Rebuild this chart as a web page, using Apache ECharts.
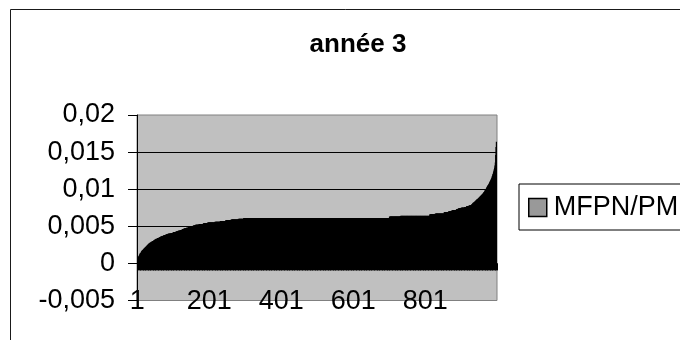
<!DOCTYPE html>
<html>
<head>
<meta charset="utf-8">
<title>année 3</title>
<script src="https://cdn.jsdelivr.net/npm/echarts/dist/echarts.min.js"></script>
<style>
  html, body { margin: 0; padding: 0; background: #fff; }
  #chart { width: 680px; height: 340px; }
</style>
</head>
<body>
<div id="chart"></div>
<script>
// Sorted ratio values, one per observation (1 … 1000)
const mfpnPm = [
  0.0001,0.0003,0.0005,0.0006,0.0008,0.0009,0.0010,
  0.0011,0.0012,0.0013,0.0014,0.0014,0.0015,
  0.0016,0.0017,0.0017,0.0018,0.0018,0.0019,0.0019,
  0.0020,0.0020,0.0021,0.0021,0.0022,0.0022,0.0023,
  0.0023,0.0024,0.0024,0.0025,0.0025,0.0026,0.0026,
  0.0027,0.0027,0.0027,0.0028,0.0028,0.0028,
  0.0029,0.0029,0.0029,0.0030,0.0030,0.0030,0.0030,
  0.0031,0.0031,0.0031,0.0032,0.0032,0.0032,
  0.0033,0.0033,0.0033,0.0033,0.0034,0.0034,0.0034,0.0034,0.0034,
  0.0035,0.0035,0.0035,0.0035,
  0.0036,0.0036,0.0036,0.0036,0.0037,0.0037,0.0037,0.0037,0.0037,
  0.0038,0.0038,0.0038,0.0038,0.0038,0.0038,
  0.0039,0.0039,0.0039,0.0039,0.0039,0.0039,
  0.0040,0.0040,0.0040,0.0040,0.0040,0.0040,0.0040,0.0040,
  0.0041,0.0041,0.0041,0.0041,0.0041,0.0041,
  0.0042,0.0042,0.0042,0.0042,0.0042,0.0042,0.0042,0.0042,
  0.0043,0.0043,0.0043,0.0043,0.0043,0.0043,
  0.0044,0.0044,0.0044,0.0044,0.0044,0.0044,
  0.0045,0.0045,0.0045,0.0045,0.0045,
  0.0046,0.0046,0.0046,0.0046,0.0046,
  0.0047,0.0047,0.0047,0.0047,0.0047,0.0047,0.0047,
  0.0048,0.0048,0.0048,0.0048,0.0048,0.0048,
  0.0049,0.0049,0.0049,0.0049,0.0049,
  0.0050,0.0050,0.0050,0.0050,0.0050,0.0050,0.0050,0.0050,
  0.0051,0.0051,0.0051,0.0051,0.0051,0.0051,
  0.0052,0.0052,0.0052,0.0052,0.0052,0.0052,0.0052,0.0052,0.0052,0.0052,
  0.0053,0.0053,0.0053,0.0053,0.0053,0.0053,0.0053,0.0053,0.0053,0.0053,0.0053,0.0053,
  0.0054,0.0054,0.0054,0.0054,0.0054,0.0054,0.0054,0.0054,0.0054,0.0054,0.0054,0.0054,
  0.0055,0.0055,0.0055,0.0055,0.0055,0.0055,0.0055,0.0055,0.0055,0.0055,
  0.0055,0.0055,0.0055,0.0055,0.0055,0.0055,0.0055,0.0055,0.0055,0.0055,
  0.0056,0.0056,0.0056,0.0056,0.0056,0.0056,0.0056,0.0056,0.0056,0.0056,0.0056,0.0056,0.0056,0.0056,0.0056,
  0.0057,0.0057,0.0057,0.0057,0.0057,0.0057,0.0057,0.0057,0.0057,0.0057,0.0057,0.0057,0.0057,0.0057,0.0057,
  0.0058,0.0058,0.0058,0.0058,0.0058,0.0058,0.0058,0.0058,0.0058,0.0058,0.0058,0.0058,0.0058,0.0058,0.0058,
  0.0059,0.0059,0.0059,0.0059,0.0059,0.0059,0.0059,0.0059,0.0059,0.0059,
  0.0059,0.0059,0.0059,0.0059,0.0059,0.0059,0.0059,0.0059,0.0059,0.0059,
  0.0060,0.0060,0.0060,0.0060,0.0060,0.0060,0.0060,0.0060,0.0060,0.0060,0.0060,0.0060,0.0060,0.0060,0.0060,
  // long plateau
  0.0061,0.0061,0.0061,0.0061,0.0061,0.0061,0.0061,0.0061,0.0061,0.0061,0.0061,0.0061,0.0061,0.0061,0.0061,0.0061,0.0061,0.0061,0.0061,0.0061,
  0.0061,0.0061,0.0061,0.0061,0.0061,0.0061,0.0061,0.0061,0.0061,0.0061,0.0061,0.0061,0.0061,0.0061,0.0061,0.0061,0.0061,0.0061,0.0061,0.0061,
  0.0061,0.0061,0.0061,0.0061,0.0061,0.0061,0.0061,0.0061,0.0061,0.0061,0.0061,0.0061,0.0061,0.0061,0.0061,0.0061,0.0061,0.0061,0.0061,0.0061,
  0.0061,0.0061,0.0061,0.0061,0.0061,0.0061,0.0061,0.0061,0.0061,0.0061,0.0061,0.0061,0.0061,0.0061,0.0061,0.0061,0.0061,0.0061,0.0061,0.0061,
  0.0061,0.0061,0.0061,0.0061,0.0061,0.0061,0.0061,0.0061,0.0061,0.0061,0.0061,0.0061,0.0061,0.0061,0.0061,0.0061,0.0061,0.0061,0.0061,0.0061,
  0.0061,0.0061,0.0061,0.0061,0.0061,0.0061,0.0061,0.0061,0.0061,0.0061,0.0061,0.0061,0.0061,0.0061,0.0061,0.0061,0.0061,0.0061,0.0061,0.0061,
  0.0061,0.0061,0.0061,0.0061,0.0061,0.0061,0.0061,0.0061,0.0061,0.0061,0.0061,0.0061,0.0061,0.0061,0.0061,0.0061,0.0061,0.0061,0.0061,0.0061,
  0.0061,0.0061,0.0061,0.0061,0.0061,0.0061,0.0061,0.0061,0.0061,0.0061,0.0061,0.0061,0.0061,0.0061,0.0061,0.0061,0.0061,0.0061,0.0061,0.0061,
  0.0061,0.0061,0.0061,0.0061,0.0061,0.0061,0.0061,0.0061,0.0061,0.0061,0.0061,0.0061,0.0061,0.0061,0.0061,0.0061,0.0061,0.0061,0.0061,0.0061,
  0.0061,0.0061,0.0061,0.0061,0.0061,0.0061,0.0061,0.0061,0.0061,0.0061,0.0061,0.0061,0.0061,0.0061,0.0061,0.0061,0.0061,0.0061,0.0061,0.0061,
  0.0061,0.0061,0.0061,0.0061,0.0061,0.0061,0.0061,0.0061,0.0061,0.0061,0.0061,0.0061,0.0061,0.0061,0.0061,0.0061,0.0061,0.0061,0.0061,0.0061,
  0.0061,0.0061,0.0061,0.0061,0.0061,0.0061,0.0061,0.0061,0.0061,0.0061,0.0061,0.0061,0.0061,0.0061,0.0061,0.0061,0.0061,0.0061,0.0061,0.0061,
  0.0061,0.0061,0.0061,0.0061,0.0061,0.0061,0.0061,0.0061,0.0061,0.0061,0.0061,0.0061,0.0061,0.0061,0.0061,0.0061,0.0061,0.0061,0.0061,0.0061,
  0.0061,0.0061,0.0061,0.0061,0.0061,0.0061,0.0061,0.0061,0.0061,0.0061,0.0061,0.0061,0.0061,0.0061,0.0061,0.0061,0.0061,0.0061,0.0061,0.0061,
  0.0061,0.0061,0.0061,0.0061,0.0061,0.0061,0.0061,0.0061,0.0061,0.0061,0.0061,0.0061,0.0061,0.0061,0.0061,0.0061,0.0061,0.0061,0.0061,0.0061,
  0.0061,0.0061,0.0061,0.0061,0.0061,0.0061,0.0061,0.0061,0.0061,0.0061,0.0061,0.0061,0.0061,0.0061,0.0061,0.0061,0.0061,0.0061,0.0061,0.0061,
  0.0061,0.0061,0.0061,0.0061,0.0061,0.0061,0.0061,0.0061,0.0061,0.0061,0.0061,0.0061,0.0061,0.0061,0.0061,0.0061,0.0061,0.0061,0.0061,0.0061,
  0.0061,0.0061,0.0061,0.0061,0.0061,0.0061,0.0061,0.0061,0.0061,0.0061,0.0061,0.0061,0.0061,0.0061,0.0061,0.0061,0.0061,0.0061,0.0061,0.0061,
  0.0061,0.0061,0.0061,0.0061,0.0061,0.0061,0.0061,0.0061,0.0061,0.0061,0.0061,0.0061,0.0061,0.0061,0.0061,0.0061,0.0061,0.0061,0.0061,0.0061,
  0.0061,0.0061,0.0061,0.0061,0.0061,0.0061,0.0061,0.0061,0.0061,0.0061,0.0061,0.0061,0.0061,0.0061,0.0061,0.0061,0.0061,0.0061,0.0061,0.0061,
  0.0061,0.0061,0.0061,0.0061,0.0061,
  // second step
  0.0063,0.0063,0.0063,0.0063,0.0063,0.0063,0.0063,0.0063,0.0063,0.0063,0.0063,0.0063,0.0063,0.0063,0.0063,0.0063,0.0063,0.0063,0.0063,0.0063,
  0.0063,0.0063,0.0063,0.0063,0.0063,0.0063,0.0063,0.0063,0.0063,0.0063,
  0.0064,0.0064,0.0064,0.0064,0.0064,0.0064,0.0064,0.0064,0.0064,0.0064,0.0064,0.0064,0.0064,0.0064,0.0064,0.0064,0.0064,0.0064,0.0064,0.0064,
  0.0064,0.0064,0.0064,0.0064,0.0064,0.0064,0.0064,0.0064,0.0064,0.0064,0.0064,0.0064,0.0064,0.0064,0.0064,0.0064,0.0064,0.0064,0.0064,0.0064,
  0.0064,0.0064,0.0064,0.0064,0.0064,0.0064,0.0064,0.0064,0.0064,0.0064,0.0064,0.0064,0.0064,0.0064,0.0064,0.0064,0.0064,0.0064,0.0064,0.0064,
  0.0064,0.0064,0.0064,0.0064,0.0064,0.0064,0.0064,0.0064,0.0064,0.0064,0.0064,0.0064,0.0064,0.0064,0.0064,0.0064,0.0064,0.0064,0.0064,0.0064,
  0.0064,0.0064,
  // upper tail
  0.0066,0.0066,0.0066,0.0066,0.0066,0.0066,0.0066,0.0066,0.0066,0.0066,0.0066,0.0066,0.0066,0.0066,0.0066,
  0.0067,0.0067,0.0067,0.0067,0.0067,0.0067,0.0067,0.0067,0.0067,0.0067,0.0067,0.0067,0.0067,0.0067,0.0067,0.0067,0.0067,0.0067,0.0067,0.0067,
  0.0067,0.0067,0.0067,0.0067,0.0067,
  0.0069,0.0069,0.0069,0.0069,0.0069,0.0069,0.0069,0.0069,0.0069,0.0069,0.0069,0.0069,
  0.0070,0.0070,0.0070,0.0070,0.0070,0.0070,0.0070,0.0070,
  0.0071,0.0071,0.0071,0.0071,
  0.0072,0.0072,0.0072,0.0072,0.0072,0.0072,0.0072,0.0072,0.0072,0.0072,
  0.0073,0.0073,0.0073,0.0073,0.0073,
  0.0074,0.0074,0.0074,0.0074,0.0074,0.0074,0.0074,0.0074,
  0.0075,0.0075,0.0075,0.0075,0.0075,0.0075,0.0075,0.0075,0.0075,0.0075,
  0.0076,0.0076,0.0076,0.0076,0.0076,
  0.0077,0.0077,0.0077,0.0077,0.0077,0.0077,0.0077,
  0.0078,0.0078,0.0078,0.0078,0.0078,0.0078,0.0078,
  0.0079,0.0080,0.0080,0.0081,0.0081,0.0082,0.0082,0.0082,0.0083,
  0.0083,0.0084,0.0084,0.0085,0.0085,0.0086,0.0086,0.0086,0.0087,
  0.0087,0.0088,0.0088,0.0089,0.0089,0.0090,0.0090,0.0091,
  0.0091,0.0092,0.0092,0.0093,0.0093,0.0094,
  0.0094,0.0095,0.0096,0.0096,0.0097,0.0098,0.0099,
  0.0099,0.0100,0.0101,0.0102,0.0103,0.0104,0.0105,
  0.0105,0.0106,0.0107,0.0108,0.0109,0.0110,
  0.0111,0.0112,0.0113,0.0114,0.0115,0.0117,
  0.0118,0.0120,0.0121,0.0123,0.0125,
  0.0127,0.0129,0.0132,0.0136,
  0.0146,0.0157,0.0164
];

// Observation numbers used as categories
const categories = mfpnPm.map((_, i) => String(i + 1));

const chartTitle = 'année 3';
const seriesName = 'MFPN/PM';

const yMin = -0.005;
const yMax = 0.02;
const yStep = 0.005;

const FONT = "'Liberation Sans', Arial, sans-serif";

const chart = echarts.init(document.getElementById('chart'), null, { renderer: 'canvas' });

chart.setOption({
  animation: false,
  backgroundColor: '#ffffff',
  textStyle: { fontFamily: FONT },
  graphic: [{
    type: 'rect',
    silent: true,
    shape: { x: 10.5, y: 9.5, width: 720, height: 400 },
    style: { fill: 'none', stroke: '#1a1a1a', lineWidth: 1 }
  }],
  title: {
    text: chartTitle,
    left: 353,
    textAlign: 'center',
    top: 27,
    textStyle: { fontFamily: FONT, fontWeight: 'bold', fontSize: 26, color: '#000' }
  },
  legend: {
    data: [seriesName],
    left: 519,
    top: 184,
    orient: 'vertical',
    padding: [10, 40, 9, 9],
    borderColor: '#000',
    borderWidth: 1,
    backgroundColor: '#fff',
    icon: 'rect',
    itemWidth: 18,
    itemHeight: 18,
    itemStyle: { color: '#999999', borderColor: '#000', borderWidth: 1.5 },
    textStyle: { fontFamily: FONT, fontSize: 27, color: '#000', padding: [0, 0, 0, 2] }
  },
  grid: {
    left: 137,
    right: 183,
    top: 115,
    bottom: 39.5,
    show: true,
    backgroundColor: '#C0C0C0',
    borderColor: '#808080',
    borderWidth: 1
  },
  xAxis: [{
    type: 'category',
    data: categories,
    axisLine: { onZero: true, lineStyle: { color: '#000', width: 1 } },
    axisTick: { show: true, interval: 1, length: 7, lineStyle: { color: '#000' } },
    axisLabel: { show: false },
    splitLine: { show: false }
  }, {
    type: 'category',
    data: categories,
    position: 'bottom',
    axisLine: { show: false, onZero: false },
    axisTick: { show: false },
    splitLine: { show: false },
    axisLabel: {
      interval: 199,
      hideOverlap: false,
      fontFamily: FONT,
      fontSize: 27,
      color: '#000',
      margin: 1,
      verticalAlign: 'middle'
    }
  }],
  yAxis: {
    type: 'value',
    min: yMin,
    max: yMax,
    interval: yStep,
    axisLine: { show: true, lineStyle: { color: '#000' } },
    axisTick: { show: true, length: 9, lineStyle: { color: '#000' } },
    axisLabel: {
      fontFamily: FONT,
      fontSize: 27,
      color: '#000',
      margin: 22,
      formatter: v => String(Number(v.toFixed(3))).replace('.', ',')
    },
    splitLine: {
      show: true,
      showMinLine: false,
      showMaxLine: false,
      lineStyle: { color: '#000', width: 1 }
    }
  },
  series: [{
    name: seriesName,
    type: 'bar',
    xAxisIndex: 0,
    data: mfpnPm,
    barWidth: 2,
    large: false,
    itemStyle: { color: '#000' },
    emphasis: { disabled: true }
  }]
});
</script>
</body>
</html>
